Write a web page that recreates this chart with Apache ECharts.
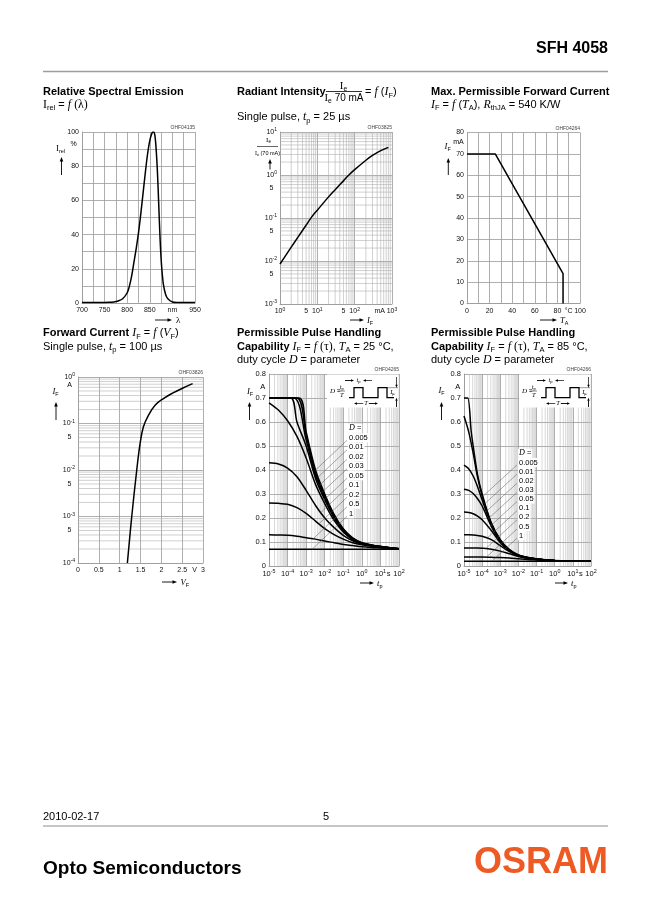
<!DOCTYPE html>
<html>
<head>
<meta charset="utf-8">
<title>SFH 4058</title>
<script src="https://cdn.jsdelivr.net/npm/echarts@6.0.0/dist/echarts.min.js"></script>
<style>
html,body{margin:0;padding:0;background:#fff;}
#chart{width:650px;height:923px;}
</style>
</head>
<body>
<div id="chart"></div>
<script>
// ======================= DATA =======================
// 1) Relative spectral emission
const specWavelength_nm = [700,720,740,760,770,780,790,800,805,810,815,820,825,830,835,840,845,850,855,858,861,864,867,870,873,876,880,885,890,900,910,950];
const specRelative_pct  = [0.3,0.3,0.3,0.4,0.6,1.2,2.5,6,10,16,24,32,41,52,64,76,87,95,99.5,100,98.5,90,76,56,36,22,11,5,2.5,0.6,0.3,0.3];
const specXTicks = [700, 750, 800, 850, 900, 950];
const specXTickText = ['700', '750', '800', '850', 'nm', '950'];
const specYTicks = [0, 20, 40, 60, 80, 100];
const specYTickText = ['0', '20', '40', '60', '80', '100'];

// 2) Radiant intensity (relative to 70 mA)
const radCurrent_mA = [1, 1.5, 2, 3, 5, 7, 10, 20, 30, 50, 70, 100, 200, 300, 500, 800];
const radRelIntensity = [0.0085, 0.0144, 0.021, 0.0355, 0.068, 0.105, 0.152, 0.31, 0.455, 0.73, 1.0, 1.33, 2.2, 2.85, 3.7, 4.4];
const radXTicks = [1, 10, 100, 1000];
const radXTickText = ['10{sup|0}', '10{sup|1}', '10{sup|2}', '10{sup|3}'];
const radXExtraTicks = [5, 50, 470];
const radXExtraText = ['5', '5', 'mA'];
const radYTicks = [0.001, 0.01, 0.1, 1, 10];
const radYTickText = ['10{sup|-3}', '10{sup|-2}', '10{sup|-1}', '10{sup|0}', '10{sup|1}'];
const radYExtraTicks = [0.005, 0.05, 0.5];
const radYExtraText = ['5', '5', '5'];

// 3) Max. permissible forward current
const derTemp_C = [0, 25, 85, 85];
const derCurrent_mA = [70, 70, 14, 0];
const derXTicks = [0, 20, 40, 60, 80, 90, 100];
const derXTickText = ['0', '20', '40', '60', '80', '°C', '100'];
const derYTicks = [0, 10, 20, 30, 40, 50, 60, 70, 80];
const derYTickText = ['0', '10', '20', '30', '40', '50', '60', '70', '80'];

// 4) Forward current
const fwdVoltage_V = [1.185, 1.29, 1.41, 1.49, 1.57, 1.69, 1.85, 2.05, 2.28, 2.52, 2.75];
const fwdCurrent_A = [1e-4, 1e-3, 1e-2, 0.037, 0.085, 0.15, 0.247, 0.343, 0.454, 0.58, 0.72];
const fwdXTicks = [0, 0.5, 1, 1.5, 2, 2.5, 3];
const fwdXTickText = ['0', '0.5', '1', '1.5', '2', '2.5', '3'];
const fwdXExtraTicks = [2.8];
const fwdXExtraText = ['V'];
const fwdYTicks = [1e-4, 1e-3, 1e-2, 1e-1, 1];
const fwdYTickText = ['10{sup|-4}', '10{sup|-3}', '10{sup|-2}', '10{sup|-1}', '10{sup|0}'];
const fwdYExtraTicks = [5e-4, 5e-3, 5e-2];
const fwdYExtraText = ['5', '5', '5'];

// 5/6) Permissible pulse handling capability
const pulseDuty = ['0.005', '0.01', '0.02', '0.03', '0.05', '0.1', '0.2', '0.5', '1'];
const pulse25Time_s = [
  [1e-5, 4.2e-4, 1e-3, 3.2e-3, 0.01, 0.032, 0.1, 0.32, 1, 3.2, 10, 32, 100],
  [1e-5, 3.2e-4, 1e-3, 3.2e-3, 0.01, 0.032, 0.1, 0.32, 1, 3.2, 10, 32, 100],
  [1e-5, 2.2e-4, 1e-3, 3.2e-3, 0.01, 0.032, 0.1, 0.32, 1, 3.2, 10, 32, 100],
  [1e-5, 1.5e-4, 3.2e-4, 1e-3, 3.2e-3, 0.01, 0.032, 0.1, 0.32, 1, 3.2, 10, 32, 100],
  [1e-5, 3.2e-5, 1e-4, 3.2e-4, 1e-3, 3.2e-3, 0.01, 0.032, 0.1, 0.32, 1, 3.2, 10, 100],
  [1e-5, 3.2e-5, 1e-4, 3.2e-4, 1e-3, 3.2e-3, 0.01, 0.032, 0.1, 0.32, 1, 3.2, 10, 100],
  [1e-5, 3.2e-5, 1e-4, 3.2e-4, 1e-3, 3.2e-3, 0.01, 0.032, 0.1, 0.32, 1, 3.2, 10, 100],
  [1e-5, 3.2e-5, 1e-4, 3.2e-4, 1e-3, 3.2e-3, 0.01, 0.032, 0.1, 0.32, 1, 3.2, 10, 100],
  [1e-5, 100]
];
const pulse25Current_A = [
  [0.7, 0.7, 0.56, 0.40, 0.30, 0.215, 0.155, 0.117, 0.097, 0.088, 0.082, 0.076, 0.072],
  [0.7, 0.7, 0.545, 0.39, 0.292, 0.21, 0.152, 0.115, 0.096, 0.087, 0.081, 0.076, 0.072],
  [0.7, 0.7, 0.525, 0.378, 0.284, 0.205, 0.149, 0.113, 0.095, 0.087, 0.081, 0.076, 0.072],
  [0.7, 0.7, 0.6, 0.5, 0.365, 0.276, 0.2, 0.146, 0.112, 0.094, 0.086, 0.08, 0.076, 0.072],
  [0.68, 0.65, 0.605, 0.54, 0.45, 0.34, 0.26, 0.19, 0.142, 0.11, 0.093, 0.086, 0.08, 0.072],
  [0.43, 0.425, 0.408, 0.372, 0.315, 0.252, 0.2, 0.16, 0.128, 0.105, 0.092, 0.085, 0.079, 0.072],
  [0.262, 0.261, 0.257, 0.243, 0.219, 0.187, 0.156, 0.131, 0.112, 0.097, 0.088, 0.082, 0.078, 0.071],
  [0.13, 0.129, 0.128, 0.124, 0.118, 0.112, 0.104, 0.097, 0.09, 0.085, 0.08, 0.077, 0.075, 0.071],
  [0.07, 0.07]
];
const pulse85Time_s = [
  [1e-5, 1.6e-5, 2.5e-5, 3.2e-5, 5.6e-5, 1e-4, 3.2e-4, 1e-3, 3.2e-3, 0.01, 0.032, 0.1, 0.32, 1, 10, 100],
  [1e-5, 1.8e-5, 3.2e-5, 5.6e-5, 1e-4, 3.2e-4, 1e-3, 3.2e-3, 0.01, 0.032, 0.1, 0.32, 1, 10, 100],
  [1e-5, 1.8e-5, 3.2e-5, 5.6e-5, 1e-4, 3.2e-4, 1e-3, 3.2e-3, 0.01, 0.032, 0.1, 0.32, 1, 10, 100],
  [1e-5, 1.8e-5, 3.2e-5, 5.6e-5, 1e-4, 3.2e-4, 1e-3, 3.2e-3, 0.01, 0.032, 0.1, 0.32, 1, 10, 100],
  [1e-5, 1.8e-5, 3.2e-5, 5.6e-5, 1e-4, 3.2e-4, 1e-3, 3.2e-3, 0.01, 0.032, 0.1, 0.32, 1, 10, 100],
  [1e-5, 1.8e-5, 3.2e-5, 5.6e-5, 1e-4, 3.2e-4, 1e-3, 3.2e-3, 0.01, 0.032, 0.1, 0.32, 1, 10, 100],
  [1e-5, 1.8e-5, 3.2e-5, 5.6e-5, 1e-4, 3.2e-4, 1e-3, 3.2e-3, 0.01, 0.032, 0.1, 0.32, 1, 10, 100],
  [1e-5, 1.8e-5, 3.2e-5, 5.6e-5, 1e-4, 3.2e-4, 1e-3, 3.2e-3, 0.01, 0.032, 0.1, 0.32, 1, 10, 100],
  [1e-5, 100]
];
const pulse85Current_A = [
  [0.7, 0.7, 0.56, 0.5, 0.38, 0.3, 0.18, 0.11, 0.068, 0.046, 0.036, 0.03, 0.026, 0.023, 0.021, 0.02],
  [0.625, 0.56, 0.47, 0.37, 0.293, 0.177, 0.108, 0.067, 0.045, 0.035, 0.029, 0.025, 0.023, 0.021, 0.02],
  [0.42, 0.405, 0.375, 0.33, 0.275, 0.172, 0.105, 0.066, 0.045, 0.035, 0.029, 0.025, 0.023, 0.021, 0.02],
  [0.32, 0.315, 0.302, 0.28, 0.25, 0.165, 0.102, 0.065, 0.044, 0.035, 0.029, 0.025, 0.023, 0.021, 0.02],
  [0.225, 0.223, 0.218, 0.208, 0.193, 0.148, 0.097, 0.063, 0.044, 0.034, 0.029, 0.025, 0.023, 0.021, 0.02],
  [0.13, 0.13, 0.129, 0.127, 0.124, 0.11, 0.085, 0.06, 0.042, 0.033, 0.028, 0.025, 0.023, 0.021, 0.02],
  [0.075, 0.075, 0.075, 0.075, 0.074, 0.07, 0.062, 0.051, 0.04, 0.032, 0.027, 0.024, 0.022, 0.021, 0.02],
  [0.037, 0.037, 0.037, 0.037, 0.037, 0.036, 0.035, 0.033, 0.03, 0.027, 0.025, 0.023, 0.022, 0.021, 0.02],
  [0.02, 0.02]
];
const pulseXTicks = [1e-5, 1e-4, 1e-3, 1e-2, 1e-1, 1, 10, 100];
const pulseXTickText = ['10{sup|-5}', '10{sup|-4}', '10{sup|-3}', '10{sup|-2}', '10{sup|-1}', '10{sup|0}', '10{sup|1}', '10{sup|2}'];
const pulseXExtraTicks = [28];
const pulseXExtraText = ['s'];
const pulseYTicks = [0, 0.1, 0.2, 0.3, 0.4, 0.5, 0.6, 0.7, 0.8];
const pulseYTickText = ['0', '0.1', '0.2', '0.3', '0.4', '0.5', '0.6', '0.7', '0.8'];

// ======================= STYLE / LAYOUT =======================
const SANS = '"Liberation Sans", Arial, Helvetica, sans-serif';
const SERIF = '"Liberation Serif", "Times New Roman", serif';
const GRID_C = '#9a9a9a';
const MINOR_C = '#b0b0b0';
const TXT_C = '#111';

const grids = [
  {left: 82,  top: 132,   width: 113, height: 171},
  {left: 280, top: 132,   width: 112, height: 172},
  {left: 467, top: 132.5, width: 113, height: 171},
  {left: 78,  top: 377,   width: 125, height: 186},
  {left: 269, top: 374,   width: 130, height: 192},
  {left: 464, top: 374,   width: 127, height: 192}
];

const tfLin = v => v;
const tfLog = v => Math.log10(v);

function tickFmt(ticks, texts, tf) {
  const tv = ticks.map(tf);
  return function (v) {
    for (let i = 0; i < tv.length; i++) if (Math.abs(tv[i] - v) < 1e-6) return texts[i];
    return '';
  };
}

function mkAxis(gi, min, max, interval, ticks, texts, tf, fs) {
  return {
    type: 'value', gridIndex: gi, min: min, max: max, interval: interval,
    axisLine: {show: true, onZero: false, lineStyle: {color: GRID_C, width: 0.8}},
    axisTick: {show: false},
    splitLine: {show: true, lineStyle: {color: GRID_C, width: 0.8}},
    axisLabel: {
      show: true, margin: 3, fontSize: fs || 7, fontFamily: SANS, color: TXT_C,
      lineHeight: 9, showMinLabel: true, showMaxLabel: true,
      formatter: tickFmt(ticks, texts, tf),
      rich: {sup: {fontSize: (fs || 7) * 0.72, fontFamily: SANS, color: TXT_C, verticalAlign: 'top', lineHeight: 3}}
    }
  };
}

function curve(gi, xs, ys, tfx, tfy, smooth) {
  return {
    type: 'line', xAxisIndex: gi, yAxisIndex: gi,
    data: xs.map((x, i) => [tfx(x), tfy(ys[i])]),
    showSymbol: false, symbol: 'none', smooth: smooth, silent: true, z: 5,
    lineStyle: {color: '#000', width: 1.5}, animation: false
  };
}

const series = [
  curve(0, specWavelength_nm, specRelative_pct, tfLin, tfLin, 0.35),
  curve(1, radCurrent_mA, radRelIntensity, tfLog, tfLog, 0.4),
  curve(2, derTemp_C, derCurrent_mA, tfLin, tfLin, false),
  curve(3, fwdVoltage_V, fwdCurrent_A, tfLin, tfLog, 0.4)
];
pulseDuty.forEach((d, i) => series.push(curve(4, pulse25Time_s[i], pulse25Current_A[i], tfLog, tfLin, 0.3)));
pulseDuty.forEach((d, i) => series.push(curve(5, pulse85Time_s[i], pulse85Current_A[i], tfLog, tfLin, 0.3)));

const chart = echarts.init(document.getElementById('chart'), null, {renderer: 'canvas', width: 650, height: 923});
chart.setOption({
  backgroundColor: '#fff',
  animation: false,
  grid: grids.map(g => ({left: g.left, top: g.top, width: g.width, height: g.height, containLabel: false, outerBoundsMode: 'none', show: false})),
  xAxis: [
    mkAxis(0, 700, 950, 25, specXTicks, specXTickText, tfLin),
    mkAxis(1, 0, 3, 1, radXTicks, radXTickText, tfLog),
    mkAxis(2, 0, 100, 10, derXTicks, derXTickText, tfLin),
    mkAxis(3, 0, 3, 0.5, fwdXTicks, fwdXTickText, tfLin),
    mkAxis(4, -5, 2, 1, pulseXTicks, pulseXTickText, tfLog, 7.5),
    mkAxis(5, -5, 2, 1, pulseXTicks, pulseXTickText, tfLog, 7.5)
  ],
  yAxis: [
    mkAxis(0, 0, 100, 10, specYTicks, specYTickText, tfLin),
    mkAxis(1, -3, 1, 1, radYTicks, radYTickText, tfLog),
    mkAxis(2, 0, 80, 10, derYTicks, derYTickText, tfLin),
    mkAxis(3, -4, 0, 1, fwdYTicks, fwdYTickText, tfLog),
    mkAxis(4, 0, 0.8, 0.1, pulseYTicks, pulseYTickText, tfLin, 7.5),
    mkAxis(5, 0, 0.8, 0.1, pulseYTicks, pulseYTickText, tfLin, 7.5)
  ],
  series: series
});

// ======================= GRAPHICS =======================
const G = [];
function R(sz) {
  const lh = Math.round(sz * 1.25);
  const sub = +(sz * 0.68).toFixed(2);
  return {
    b:  {fontFamily: SANS, fontWeight: 'bold', fontSize: sz, lineHeight: lh, fill: '#000'},
    n:  {fontFamily: SANS, fontSize: sz, lineHeight: lh, fill: '#000'},
    se: {fontFamily: SERIF, fontSize: +(sz * 1.08).toFixed(2), lineHeight: lh, fill: '#000'},
    fi: {fontFamily: SERIF, fontStyle: 'italic', fontSize: +(sz * 1.08).toFixed(2), lineHeight: lh, fill: '#000'},
    sub: {fontFamily: SANS, fontSize: sub, lineHeight: sub, verticalAlign: 'bottom', fill: '#000'}
  };
}
function txt(x, y, s, o) {
  o = o || {};
  const sz = o.size || 11;
  const st = {
    text: s, fontSize: sz, fontFamily: o.family || SANS, fontWeight: o.weight || 'normal',
    fontStyle: o.italic ? 'italic' : 'normal', fill: o.color || '#000',
    align: o.align || 'left', verticalAlign: 'middle',
    textAlign: o.align || 'left', textVerticalAlign: 'middle',
    lineHeight: Math.round(sz * 1.25), rich: R(sz)
  };
  if (o.bg) { st.backgroundColor = o.bg; st.padding = o.pad || [0, 1, 0, 1]; }
  G.push({type: 'text', x: x, y: y, z: o.z || 20, silent: true, style: st});
}
function seg(x1, y1, x2, y2, c, w, z) {
  G.push({type: 'line', silent: true, z: z || 20, shape: {x1: x1, y1: y1, x2: x2, y2: y2}, style: {stroke: c || '#000', lineWidth: w || 0.8}});
}
function tri(pts, z) {
  G.push({type: 'polygon', silent: true, z: z || 20, shape: {points: pts}, style: {fill: '#000'}});
}
function arrowUp(x, yb, yt, h, w) { h = h || 4.5; w = w || 1.8; seg(x, yb, x, yt + h - 0.5, '#000', 0.9); tri([[x - w, yt + h], [x + w, yt + h], [x, yt]]); }
function arrowDown(x, yt, yb, h, w) { h = h || 4.5; w = w || 1.8; seg(x, yt, x, yb - h + 0.5, '#000', 0.7); tri([[x - w, yb - h], [x + w, yb - h], [x, yb]]); }
function arrowRight(xl, xr, y, h, w) { h = h || 4.5; w = w || 1.8; seg(xl, y, xr - h + 0.5, y, '#000', 0.9); tri([[xr - h, y - w], [xr - h, y + w], [xr, y]]); }
function arrowLeft(xr, xl, y, h, w) { h = h || 4.5; w = w || 1.8; seg(xr, y, xl + h - 0.5, y, '#000', 0.7); tri([[xl + h, y - w], [xl + h, y + w], [xl, y]]); }

// header / footer
txt(608, 49, 'SFH 4058', {size: 16, weight: 'bold', align: 'right'});
seg(43, 71.5, 608, 71.5, '#9d9d9d', 1.3);
txt(43, 817, '2010-02-17', {size: 11});
txt(326, 817, '5', {size: 11, align: 'center'});
seg(43, 826, 608, 826, '#8d8d8d', 1);
txt(43, 868.5, 'Opto Semiconductors', {size: 19, weight: 'bold'});
txt(608, 863.5, 'OSRAM', {size: 36, weight: 'bold', align: 'right', color: '#ee5a24'});

// titles
txt(43, 92, 'Relative Spectral Emission', {weight: 'bold'});
txt(43, 104.5, '{se|I}{sub|rel} = {fi|f} {se|(λ)}');
txt(237, 92, 'Radiant Intensity', {weight: 'bold'});
txt(343.5, 86, '{se|I}{sub|e}', {size: 10, align: 'center'});
seg(326, 91.5, 362, 91.5, '#000', 0.8);
txt(344, 98.5, '{se|I}{sub|e} 70 mA', {size: 10, align: 'center'});
txt(365, 92, '= {fi|f} ({fi|I}{sub|F})');
txt(237, 117, 'Single pulse, {fi|t}{sub|p} = 25 µs');
txt(431, 92, 'Max. Permissible Forward Current', {weight: 'bold'});
txt(431, 104.5, '{fi|I}{sub|F} = {fi|f} ({fi|T}{sub|A}), {fi|R}{sub|thJA} = 540 K/W');
txt(43, 333, '{b|Forward Current} {fi|I}{sub|F} = {fi|f} ({fi|V}{sub|F})');
txt(43, 346.5, 'Single pulse, {fi|t}{sub|p} = 100 µs');
txt(237, 333, 'Permissible Pulse Handling', {weight: 'bold'});
txt(237, 346.5, '{b|Capability} {fi|I}{sub|F} = {fi|f} {se|(τ)}, {fi|T}{sub|A} = 25 °C,');
txt(237, 359.5, 'duty cycle {fi|D} = parameter');
txt(431, 333, 'Permissible Pulse Handling', {weight: 'bold'});
txt(431, 346.5, '{b|Capability} {fi|I}{sub|F} = {fi|f} {se|(τ)}, {fi|T}{sub|A} = 85 °C,');
txt(431, 359.5, 'duty cycle {fi|D} = parameter');

// drawing codes
const codes = ['OHF04135', 'OHF03825', 'OHF04264', 'OHF03826', 'OHF04265', 'OHF04266'];
grids.forEach((g, i) => txt(g.left + g.width, g.top - 4, codes[i], {size: 5, align: 'right', color: '#444'}));

// axis names
txt(60.5, 148.5, '{se|I}{sub|rel}', {size: 8, align: 'center'});
arrowUp(61.5, 175, 157);
txt(73.5, 144, '%', {size: 7, align: 'center'});
arrowRight(155, 172, 320);
txt(176, 320.5, '{se|λ}', {size: 8.5});

txt(268.5, 140, '{se|I}{sub|e}', {size: 6.5, align: 'center'});
seg(257, 146.5, 278, 146.5, '#000', 0.6);
txt(267.5, 153, '{se|I}{sub|e} (70 mA)', {size: 5.5, align: 'center'});
arrowUp(270, 169.5, 159);
arrowRight(350, 364, 320);
txt(367, 320.5, '{fi|I}{sub|F}', {size: 8});

txt(447.7, 147, '{fi|I}{sub|F}', {size: 8, align: 'center'});
txt(458.5, 142.5, 'mA', {size: 7, align: 'center'});
arrowUp(448.3, 175, 158);
arrowRight(540, 557, 320);
txt(560, 320.5, '{fi|T}{sub|A}', {size: 8});

txt(55.5, 392, '{fi|I}{sub|F}', {size: 8, align: 'center'});
txt(69.5, 385.5, 'A', {size: 7, align: 'center'});
arrowUp(56, 420, 402);
arrowRight(162, 177, 582);
txt(180.5, 582.5, '{fi|V}{sub|F}', {size: 8});

txt(250, 392, '{fi|I}{sub|F}', {size: 8, align: 'center'});
txt(262.7, 386.7, 'A', {size: 7.5, align: 'center'});
arrowUp(249.5, 420, 402);
arrowRight(360, 374, 583);
txt(377, 583.5, '{fi|t}{sub|p}', {size: 8});

txt(441.5, 391, '{fi|I}{sub|F}', {size: 8, align: 'center'});
txt(457.7, 386.7, 'A', {size: 7.5, align: 'center'});
arrowUp(441.5, 420, 402);
arrowRight(555, 568, 583);
txt(571, 583.5, '{fi|t}{sub|p}', {size: 8});

// helpers using the library's scales
function px(gi, x, y) { return chart.convertToPixel({gridIndex: gi}, [x, y]); }
function vMinor(gi, vals, color, w) {
  const g = grids[gi];
  vals.forEach(v => { const p = px(gi, v, 0); seg(p[0], g.top, p[0], g.top + g.height, color, w, 1); });
}
function hMinor(gi, vals, color, w) {
  const g = grids[gi];
  vals.forEach(v => { const p = px(gi, 0, v); seg(g.left, p[1], g.left + g.width, p[1], color, w, 1); });
}
function logMinor(n0, n1) {
  const out = [];
  for (let n = n0; n <= n1; n++) for (let k = 2; k <= 9; k++) out.push(Math.log10(k * Math.pow(10, n)));
  return out;
}
vMinor(1, logMinor(0, 2), MINOR_C, 0.6);
hMinor(1, logMinor(-3, 0), MINOR_C, 0.6);
hMinor(3, logMinor(-4, -1), MINOR_C, 0.6);
vMinor(4, logMinor(-5, 1), MINOR_C, 0.5);
vMinor(5, logMinor(-5, 1), MINOR_C, 0.5);

function xExtra(gi, vals, texts, tf, fs) {
  const g = grids[gi];
  vals.forEach((v, i) => { const p = px(gi, tf(v), 0); txt(p[0], g.top + g.height + 7.5, texts[i], {size: fs || 7, align: 'center', color: TXT_C}); });
}
function yExtra(gi, vals, texts, tf, fs) {
  const g = grids[gi];
  vals.forEach((v, i) => { const p = px(gi, 0, tf(v)); txt(g.left - 6.5, p[1], texts[i], {size: fs || 7, align: 'right', color: TXT_C}); });
}
xExtra(1, radXExtraTicks, radXExtraText, tfLog);
yExtra(1, radYExtraTicks, radYExtraText, tfLog);
xExtra(3, fwdXExtraTicks, fwdXExtraText, tfLin);
yExtra(3, fwdYExtraTicks, fwdYExtraText, tfLog);
xExtra(4, pulseXExtraTicks, pulseXExtraText, tfLog, 7.5);
xExtra(5, pulseXExtraTicks, pulseXExtraText, tfLog, 7.5);

// duty-cycle legends with leader lines ending on their curves
function curveAt(xs, ys, x) {
  if (x <= xs[0]) return ys[0];
  for (let i = 1; i < xs.length; i++) {
    if (x <= xs[i]) { const f = (x - xs[i - 1]) / ((xs[i] - xs[i - 1]) || 1e-9); return ys[i - 1] + f * (ys[i] - ys[i - 1]); }
  }
  return ys[ys.length - 1];
}
function leader(gi, x0, y0, dx, dy, xs, ys) {
  let qx = x0, qy = y0;
  for (let s = 0; s < 140; s += 0.5) {
    qx = x0 + dx * s; qy = y0 + dy * s;
    const d = chart.convertFromPixel({gridIndex: gi}, [qx, qy]);
    if (d[1] <= curveAt(xs, ys, d[0])) break;
  }
  seg(x0, y0, qx, qy, '#555', 0.5, 6);
}
function pulseLegend(gi, lx, y0, step, times, currents, dx, dy) {
  txt(lx, y0, '{fi|D} =', {size: 7.5, bg: '#fff'});
  pulseDuty.forEach((d, i) => {
    const y = y0 + step * (i + 1);
    txt(lx, y, d, {size: 7.5, bg: '#fff'});
    leader(gi, lx - 1, y + 2.5, dx, dy, times[i].map(tfLog), currents[i]);
  });
}
pulseLegend(4, 348, 428.3, 9.5, pulse25Time_s, pulse25Current_A, -0.73, 0.69);
pulseLegend(5, 518, 453.3, 9.15, pulse85Time_s, pulse85Current_A, -0.74, 0.68);

// pulse definition insets
function inset(Rx, T) {
  G.push({type: 'rect', silent: true, z: 3, shape: {x: Rx - 72, y: T + 0.6, width: 71.4, height: 33}, style: {fill: '#fff'}});
  txt(Rx - 69, T + 17, '{fi|D} =', {size: 6.5});
  txt(Rx - 57.3, T + 13.3, '{fi|t}{sub|p}', {size: 6, align: 'center'});
  seg(Rx - 61, T + 17, Rx - 54, T + 17, '#000', 0.5);
  txt(Rx - 57.3, T + 21.3, '{fi|T}', {size: 6, align: 'center'});
  const lo = T + 23.7, hi = T + 13.7;
  const pts = [[Rx - 50, lo], [Rx - 45, lo], [Rx - 45, hi], [Rx - 36, hi], [Rx - 36, lo], [Rx - 21, lo], [Rx - 21, hi], [Rx - 12, hi], [Rx - 12, lo], [Rx - 5, lo]];
  G.push({type: 'polyline', silent: true, z: 20, shape: {points: pts}, style: {stroke: '#000', lineWidth: 1.3, fill: null}});
  // t_p dimension
  arrowRight(Rx - 54, Rx - 45, T + 6.5, 3, 1.2);
  arrowLeft(Rx - 27, Rx - 36, T + 6.5, 3, 1.2);
  txt(Rx - 40.5, T + 6, '{fi|t}{sub|p}', {size: 6, align: 'center'});
  // T dimension
  arrowLeft(Rx - 33, Rx - 45, T + 29.5, 3, 1.2);
  arrowRight(Rx - 33, Rx - 21, T + 29.5, 3, 1.2);
  txt(Rx - 33, T + 29.5, '{fi|T}', {size: 6, align: 'center', bg: '#fff'});
  // I_F dimension
  arrowDown(Rx - 2.5, T + 3, hi, 3, 1.2);
  arrowUp(Rx - 2.5, T + 33, lo, 3, 1.2);
  seg(Rx - 12, hi, Rx - 1, hi, '#000', 0.4);
  txt(Rx - 6.5, T + 18.7, '{fi|I}{sub|F}', {size: 6, align: 'center'});
}
inset(399, 374);
inset(591, 374);

chart.setOption({graphic: {elements: G}});
</script>
</body>
</html>
